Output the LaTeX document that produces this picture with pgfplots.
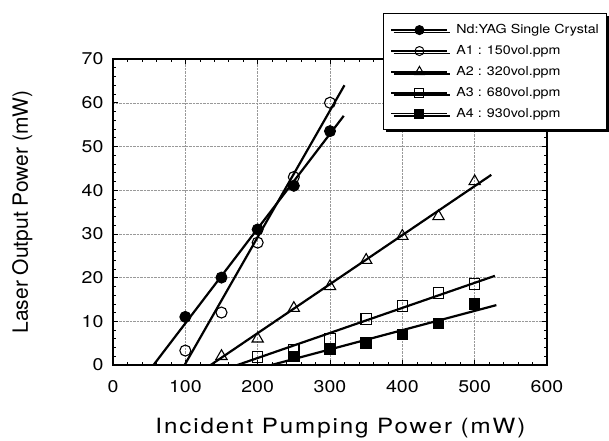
\documentclass[border=0pt]{standalone}
\usepackage{pgfplots}
\pgfplotsset{compat=1.18}
\usepackage{fontspec}
\setmainfont{TeX Gyre Heros}[FakeStretch=1.15]
\newfontfamily\wide{TeX Gyre Heros}[FakeStretch=1.15, LetterSpace=9]
\newfontfamily\plain{TeX Gyre Heros}
\usetikzlibrary{shadows}
\begin{document}
\begin{tikzpicture}
\useasboundingbox (-113pt,-75pt) rectangle (496pt,365pt);
\begin{axis}[
 at={(0,0)}, anchor=south west, scale only axis, width=434pt, height=306pt,
 xmin=0, xmax=600, ymin=0, ymax=70,
 xtick={0,100,...,600}, ytick={0,10,...,70},
 minor x tick num=4, minor y tick num=4,
 grid=major, major grid style={densely dotted, gray!80, thin},
 axis line style={line width=1.6pt},
 tick style={black, line width=0.6pt},
 major tick length=5pt, minor tick length=3pt,
 ticklabel style={font=\fontsize{17}{19}\selectfont},
 xticklabel style={yshift=-12pt},
 yticklabel style={xshift=-6pt},
 /pgf/number format/assume math mode=true,
 xlabel={\wide Incident Pumping Power (mW)}, ylabel={\plain Laser Output Power (mW)},
 label style={font=\fontsize{21}{24}\selectfont},
 xlabel style={at={(axis description cs:0.524,0)}, anchor=base, yshift=-68pt},
 ylabel style={at={(axis description cs:-0.196,0.5)}, anchor=base},
 legend style={at={(0.622,1.150)}, anchor=north west, draw=black, line width=1.2pt,
   fill=white, font=\fontsize{12.4}{14}\selectfont, row sep=6.3pt,
   inner xsep=7pt, inner ysep=9pt,
   nodes={inner xsep=1pt},
   drop shadow={opacity=1, fill=black, shadow xshift=2.5pt, shadow yshift=-2.5pt}},
 legend cell align=left,
 legend image code/.code={%
   \draw[#1, mark=none] (0pt,0pt) -- (56pt,0pt);
   \draw[#1] plot coordinates {(28pt,0pt)};
   \path (63pt,0pt);},
 clip=false,
]
\addlegendimage{black, line width=1.8pt, mark=*, mark size=4.5pt, mark options={solid, fill=black, line width=1pt}}
\addlegendentry{Nd:YAG Single Crystal}
\addlegendimage{black, line width=1.8pt, mark=o, mark size=4.5pt, mark options={solid, fill=white, line width=1pt}}
\addlegendentry{A1 : 150vol.ppm}
\addlegendimage{black, line width=1.8pt, mark=triangle, mark size=5.5pt, mark options={solid, fill=white, line width=1pt}}
\addlegendentry{A2 : 320vol.ppm}
\addlegendimage{black, line width=1.8pt, mark=square, mark size=4.5pt, mark options={solid, fill=white, line width=1pt}}
\addlegendentry{A3 : 680vol.ppm}
\addlegendimage{black, line width=1.8pt, mark=square*, mark size=4.5pt, mark options={solid, fill=black, line width=1pt}}
\addlegendentry{A4 : 930vol.ppm}
% fit lines
\addplot[black, line width=2.2pt, forget plot] coordinates {(56,0) (319,57)};
\addplot[black, line width=2.2pt, forget plot] coordinates {(99,0) (320,64)};
\addplot[black, line width=2.2pt, forget plot] coordinates {(135,0) (523,43.5)};
\addplot[black, line width=2.2pt, forget plot] coordinates {(172,0) (528,20.4)};
\addplot[black, line width=2.2pt, forget plot] coordinates {(219,0) (530,13.7)};
% data
\addplot[only marks, mark=*, mark size=5.5pt, mark options={fill=black, line width=1pt}, forget plot]
 coordinates {(100,11) (150,20) (200,31) (250,41) (300,53.5)};
\addplot[only marks, mark=o, mark size=5.5pt, mark options={fill=white, line width=1.1pt}, forget plot]
 coordinates {(100,3.3) (150,12) (200,28) (250,43) (300,60)};
\addplot[only marks, mark=triangle, mark size=6.5pt, mark options={fill=white, line width=1.1pt}, forget plot]
 coordinates {(150,2) (200,6) (250,13) (300,18) (350,24) (400,29.5) (450,34) (500,42)};
\addplot[only marks, mark=square, mark size=5.2pt, mark options={fill=white, line width=1.1pt}, forget plot]
 coordinates {(200,1.8) (250,3.5) (300,6) (350,10.5) (400,13.5) (450,16.5) (500,18.5)};
\addplot[only marks, mark=square*, mark size=5.2pt, mark options={fill=black, line width=1pt}, forget plot]
 coordinates {(250,2) (300,3.5) (350,5) (400,7) (450,9.5) (500,14)};
\end{axis}
\end{tikzpicture}
\end{document}
